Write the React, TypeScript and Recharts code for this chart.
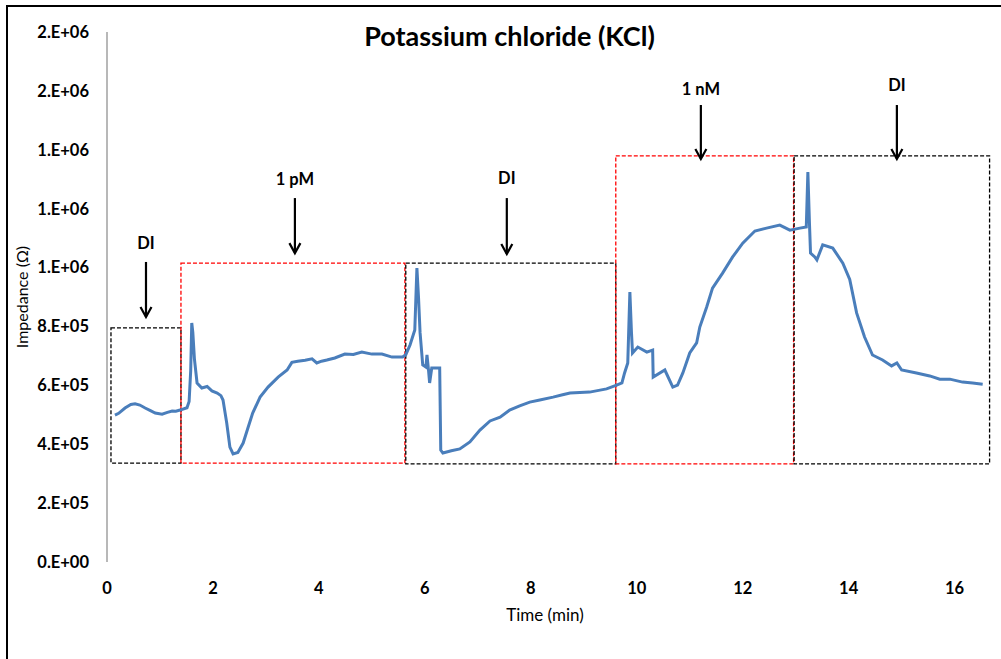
import React from "react";
import {
  LineChart,
  Line,
  XAxis,
  YAxis,
  ReferenceArea,
  ReferenceLine,
  ReferenceDot,
} from "recharts";

// ---- data ----
const timeMin: number[] = [
  0.15, 0.22, 0.34, 0.45, 0.53, 0.62, 0.72, 0.82, 0.91, 1.04, 1.14, 1.23, 1.3, 1.38, 1.51, 1.55, 1.58, 1.6, 1.62,
  1.65, 1.7, 1.79, 1.89, 1.98, 2.08, 2.15, 2.19, 2.26, 2.32, 2.38, 2.47, 2.57, 2.66, 2.75, 2.89, 3.04, 3.23, 3.4,
  3.49, 3.6, 3.74, 3.87, 3.96, 4.05, 4.15, 4.3, 4.49, 4.65, 4.81, 5.0, 5.19, 5.38, 5.58, 5.64, 5.72, 5.81, 5.85,
  5.88, 5.91, 5.96, 6.02, 6.04, 6.07, 6.09, 6.13, 6.28, 6.3, 6.34, 6.5, 6.66, 6.85, 7.04, 7.23, 7.42, 7.6, 7.79,
  7.98, 8.17, 8.42, 8.6, 8.74, 9.11, 9.43, 9.62, 9.72, 9.77, 9.83, 9.87, 9.9, 9.92, 10.02, 10.19, 10.3, 10.31,
  10.53, 10.68, 10.77, 10.87, 11.0, 11.13, 11.19, 11.32, 11.43, 11.62, 11.81, 12.0, 12.23, 12.45, 12.7, 12.89,
  13.08, 13.2, 13.23, 13.26, 13.28, 13.36, 13.4, 13.51, 13.7, 13.89, 14.02, 14.15, 14.3, 14.45, 14.64, 14.81,
  14.91, 15.0, 15.28, 15.53, 15.72, 15.91, 16.15, 16.34, 16.53,
];

const impedanceOhm: number[] = [
  499000, 505000, 523000, 535000, 537000, 533000, 523000, 514000, 506000, 502000, 508000, 513000, 512000, 516000,
  524000, 545000, 650000, 812000, 780000, 690000, 608000, 591000, 596000, 581000, 574000, 565000, 550000, 472000,
  390000, 367000, 372000, 404000, 455000, 506000, 560000, 594000, 628000, 652000, 678000, 682000, 685000, 690000,
  676000, 682000, 686000, 693000, 706000, 705000, 713000, 706000, 706000, 696000, 696000, 704000, 737000, 788000,
  998000, 900000, 778000, 669000, 662000, 703000, 650000, 608000, 659000, 659000, 380000, 370000, 378000, 384000,
  408000, 448000, 479000, 492000, 516000, 530000, 543000, 550000, 560000, 568000, 574000, 577000, 588000, 601000,
  608000, 642000, 676000, 917000, 780000, 710000, 730000, 713000, 720000, 628000, 652000, 594000, 601000, 642000,
  710000, 744000, 798000, 866000, 930000, 981000, 1036000, 1083000, 1124000, 1134000, 1144000, 1127000, 1134000,
  1138000, 1324000, 1150000, 1049000, 1036000, 1026000, 1077000, 1066000, 1015000, 960000, 846000, 764000, 703000,
  686000, 666000, 676000, 652000, 642000, 632000, 621000, 621000, 611000, 608000, 604000,
];

const xTicks: number[] = [0, 2, 4, 6, 8, 10, 12, 14, 16];
const yTicks: number[] = [0, 200000, 400000, 600000, 800000, 1000000, 1200000, 1400000, 1600000, 1800000];
const yTickLabels: string[] = [
  "0.E+00", "2.E+05", "4.E+05", "6.E+05", "8.E+05", "1.E+06", "1.E+06", "1.E+06", "2.E+06", "2.E+06",
];

// annotation boxes (time range, impedance range, colour)
const boxT1: number[] = [0.075, 1.396, 5.64, 9.604, 12.97];
const boxT2: number[] = [1.396, 5.623, 9.604, 12.96, 16.66];
const boxZ1: number[] = [336000, 336000, 333000, 333000, 333000];
const boxZ2: number[] = [795000, 1015000, 1015000, 1379000, 1379000];
const boxColor: string[] = ["#000000", "#FF0000", "#000000", "#FF0000", "#000000"];

// arrows with labels
const arrowLabel: string[] = ["DI", "1 pM", "DI", "1 nM", "DI"];
const arrowT: number[] = [0.736, 3.547, 7.547, 11.21, 14.91];
const arrowTop: number[] = [1019000, 1236000, 1236000, 1552000, 1552000];
const arrowTip: number[] = [832000, 1049000, 1046000, 1369000, 1369000];
const labelZ: number[] = [1083000, 1301000, 1304000, 1606000, 1620000];

const chartData = timeMin.map((t, i) => ({ t, z: impedanceOhm[i] }));

const FONT = "Lato, 'Open Sans', sans-serif";

const ArrowHead = (props: any) => {
  const { cx, cy } = props;
  if (cx == null || cy == null) return null;
  return (
    <path
      d={`M${cx - 5.5},${cy - 10} L${cx},${cy} L${cx + 5.5},${cy - 10}`}
      stroke="#000"
      strokeWidth={2.2}
      fill="none"
    />
  );
};

const makeLabel = (text: string) => (props: any) => {
  const { cx, cy } = props;
  if (cx == null || cy == null) return null;
  return (
    <text
      x={cx}
      y={cy}
      textAnchor="middle"
      dominantBaseline="central"
      fontFamily={FONT}
      fontWeight={700}
      fontSize={16.5}
      fill="#000"
    >
      {text}
    </text>
  );
};

export default function App() {
  return (
    <div
      style={{
        position: "absolute",
        left: 0,
        top: 0,
        width: 1001,
        height: 659,
        overflow: "hidden",
        background: "#fff",
      }}
    >
      <div
        style={{
          position: "absolute",
          left: 6,
          top: 5,
          width: 1100,
          height: 800,
          border: "2px solid #000",
        }}
      />
      <div
        style={{
          position: "absolute",
          left: 0,
          width: 1019,
          top: 20,
          textAlign: "center",
          fontFamily: FONT,
          fontWeight: 700,
          fontSize: 27,
          lineHeight: "32px",
          color: "#000",
        }}
      >
        Potassium chloride (KCl)
      </div>
      <div
        style={{
          position: "absolute",
          left: 445,
          width: 200,
          top: 604,
          textAlign: "center",
          fontFamily: FONT,
          fontSize: 17,
          lineHeight: "22px",
          color: "#000",
        }}
      >
        Time (min)
      </div>
      <div
        style={{
          position: "absolute",
          left: 22 - 100,
          top: 297 - 11,
          width: 200,
          textAlign: "center",
          fontFamily: FONT,
          fontSize: 16,
          lineHeight: "22px",
          color: "#000",
          transform: "rotate(-90deg)",
        }}
      >
        Impedance (Ω)
      </div>
      <div style={{ position: "absolute", left: 0, top: 0 }}>
        <LineChart
          width={1001}
          height={659}
          data={chartData}
          margin={{ top: 32, right: 4, bottom: 67, left: 7 }}
        >
          <XAxis
            dataKey="t"
            type="number"
            domain={[0, 16.8]}
            ticks={xTicks}
            allowDataOverflow
            axisLine={false}
            tickLine={false}
            tickMargin={14}
            height={30}
            tick={{ fontFamily: FONT, fontWeight: 700, fontSize: 16.5, fill: "#000" }}
          />
          <YAxis
            type="number"
            domain={[0, 1800000]}
            ticks={yTicks}
            width={100}
            interval={0}
            axisLine={{ stroke: "#A0A0A0", strokeWidth: 1.5 }}
            tickLine={false}
            tickMargin={12}
            tickFormatter={(v: number) => yTickLabels[yTicks.indexOf(v)] ?? ""}
            tick={{ fontFamily: FONT, fontWeight: 700, fontSize: 16.5, fill: "#000" }}
          />
          <Line
            dataKey="z"
            type="linear"
            stroke="#4A7EBB"
            strokeWidth={3}
            dot={false}
            isAnimationActive={false}
          />
          {boxT1.map((x1, i) => (
            <ReferenceArea
              key={`box${i}`}
              x1={x1}
              x2={boxT2[i]}
              y1={boxZ1[i]}
              y2={boxZ2[i]}
              stroke={boxColor[i]}
              strokeWidth={1.3}
              strokeDasharray="4 2"
              fill="none"
              fillOpacity={0}
              ifOverflow="visible"
            />
          ))}
          {arrowT.map((x, i) => (
            <ReferenceLine
              key={`shaft${i}`}
              segment={[
                { x, y: arrowTop[i] },
                { x, y: arrowTip[i] },
              ]}
              stroke="#000"
              strokeWidth={2.2}
              ifOverflow="visible"
            />
          ))}
          {arrowT.map((x, i) => (
            <ReferenceDot
              key={`head${i}`}
              x={x}
              y={arrowTip[i]}
              r={0}
              shape={ArrowHead}
              ifOverflow="visible"
            />
          ))}
          {arrowT.map((x, i) => (
            <ReferenceDot
              key={`lab${i}`}
              x={x}
              y={labelZ[i]}
              r={0}
              shape={makeLabel(arrowLabel[i])}
              ifOverflow="visible"
            />
          ))}
        </LineChart>
      </div>
    </div>
  );
}
